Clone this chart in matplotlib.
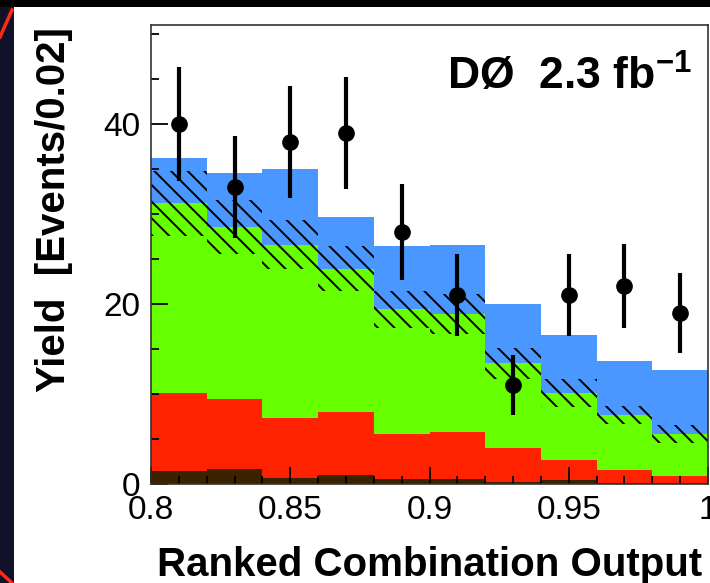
"""
Ranked combination output distribution, D0 2.3 fb^-1.
"""

import numpy as np
import matplotlib
matplotlib.use("Agg")
import matplotlib.pyplot as plt
from matplotlib.patches import Rectangle
from matplotlib.lines import Line2D
from matplotlib.ticker import MultipleLocator

# Bin edges (0.02 wide) and data
bin_lo = [0.80, 0.82, 0.84, 0.86, 0.88, 0.90, 0.92, 0.94, 0.96, 0.98]
bin_width = 0.02

# Stacked contributions per bin (bottom to top)
brown_yield = [1.5, 1.7, 0.7, 1.0, 0.55, 0.6, 0.2, 0.45, 0.1, 0.1]
red_yield = [8.6, 7.7, 6.6, 7.0, 5.05, 5.2, 3.8, 2.25, 1.5, 0.8]
green_yield = [21.1, 19.2, 19.3, 15.9, 13.8, 13.1, 9.4, 7.4, 6.1, 4.7]
blue_yield = [5.0, 5.9, 8.4, 5.8, 7.0, 7.7, 6.6, 6.5, 6.0, 7.1]

# Background uncertainty (half-width of hatched band)
bkg_unc = [3.6, 3.0, 2.7, 2.5, 2.1, 2.2, 1.75, 1.55, 1.0, 1.0]

# Observed data
data_x = [0.81, 0.83, 0.85, 0.87, 0.89, 0.91, 0.93, 0.95, 0.97, 0.99]
data_y = [40, 33, 38, 39, 28, 21, 11, 21, 22, 19]
data_err = [6.3, 5.7, 6.2, 6.2, 5.3, 4.6, 3.3, 4.6, 4.7, 4.4]

colors = {
    "brown": "#3d2200",
    "red": "#ff2200",
    "green": "#66ff00",
    "blue": "#4a97ff",
}

plt.rcParams["font.family"] = ["Liberation Sans", "DejaVu Sans"]
plt.rcParams["mathtext.fontset"] = "custom"
plt.rcParams["mathtext.rm"] = "Liberation Sans:bold"
plt.rcParams["mathtext.bf"] = "Liberation Sans:bold"
plt.rcParams["hatch.linewidth"] = 1.4

fig = plt.figure(figsize=(7.1, 5.83), dpi=100)
fig.patch.set_facecolor("#10122a")

# Slide decoration: white panel, black top band, red accent lines
fig.patches.append(Rectangle((14 / 710, 0), 1 - 14 / 710, 1 - 7 / 583,
                             transform=fig.transFigure, facecolor="white",
                             edgecolor="none", zorder=-10))
fig.patches.append(Rectangle((0, 1 - 7 / 583), 1, 7 / 583,
                             transform=fig.transFigure, facecolor="black",
                             edgecolor="none", zorder=-10))
fig.lines.append(Line2D([12 / 710, 0], [1 - 10 / 583, 1 - 37 / 583],
                        transform=fig.transFigure, color="#ff2a10", lw=2.5))
fig.lines.append(Line2D([0, 12 / 710], [11 / 583, 0],
                        transform=fig.transFigure, color="#ff2a10", lw=2.5))

ax = fig.add_axes([151 / 710, 99 / 583, 557 / 710, 459 / 583])

# Stacked histogram
bottom = np.zeros(len(bin_lo))
for vals, key in [(brown_yield, "brown"), (red_yield, "red"),
                  (green_yield, "green"), (blue_yield, "blue")]:
    ax.bar(bin_lo, vals, width=bin_width, bottom=bottom, align="edge",
           color=colors[key], linewidth=0, zorder=1)
    bottom = bottom + np.array(vals)

# Hatched uncertainty band around total background
bkg_total = np.array(brown_yield) + np.array(red_yield) + np.array(green_yield)
unc = np.array(bkg_unc)
ax.bar(bin_lo, 2 * unc, width=bin_width, bottom=bkg_total - unc, align="edge",
       facecolor="none", edgecolor="black", hatch="\\\\", linewidth=0,
       zorder=2)

# Data points
ax.errorbar(data_x, data_y, yerr=data_err, fmt="o", color="black",
            markersize=11, elinewidth=3, capsize=0, zorder=3)

ax.set_xlim(0.8, 1.0)
ax.set_ylim(0, 51)
ax.xaxis.set_major_locator(MultipleLocator(0.05))
ax.xaxis.set_minor_locator(MultipleLocator(0.01))
ax.yaxis.set_major_locator(MultipleLocator(20))
ax.yaxis.set_minor_locator(MultipleLocator(5))
ax.set_xticks([0.8, 0.85, 0.9, 0.95, 1.0])
ax.set_xticklabels(["0.8", "0.85", "0.9", "0.95", "1"])
ax.tick_params(which="both", direction="in", top=False, right=False,
               labelsize=24, width=1.3, pad=8, zorder=5)
ax.tick_params(which="major", length=12)
ax.tick_params(which="minor", length=6)
for spine in ax.spines.values():
    spine.set_linewidth(1.2)
    spine.set_color("#333333")
    spine.set_zorder(5)

fig.text(447 / 710, 1 - 90 / 583, r"DØ  2.3 fb$^{-1}$", fontsize=32,
         fontweight="bold", va="baseline", ha="left")

fig.text(54 / 710, 1 - 210 / 583, "Yield  [Events/0.02]", fontsize=29,
         fontweight="bold", rotation=90, ha="center", va="center")
fig.text(430 / 710, 7 / 583, "Ranked Combination Output", fontsize=29,
         fontweight="bold", ha="center", va="baseline")

fig.savefig("out.png", dpi=100, facecolor=fig.get_facecolor())
